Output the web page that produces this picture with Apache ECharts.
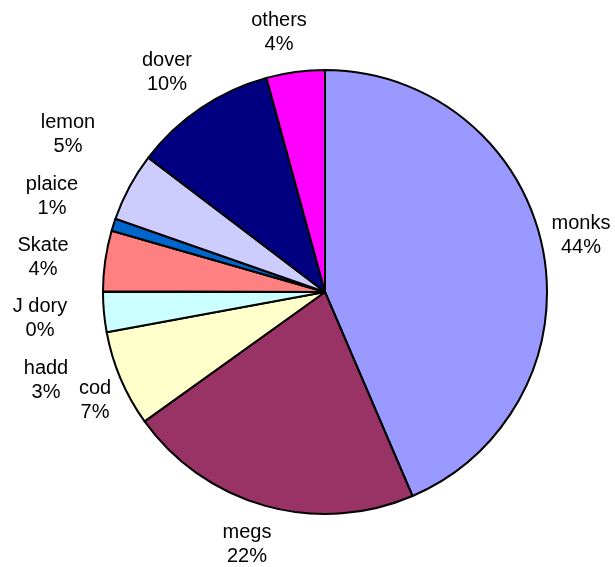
<!DOCTYPE html>
<html>
<head>
<meta charset="utf-8">
<script src="https://cdn.jsdelivr.net/npm/echarts@6/dist/echarts.min.js"></script>
<style>html,body{margin:0;padding:0;background:#fff}#c{width:615px;height:567px}</style>
</head>
<body>
<div id="c"></div>
<script>
var categories = ['monks', 'megs', 'cod', 'hadd', 'J dory', 'Skate', 'plaice', 'lemon', 'dover', 'others'];
var values = [43.55, 21.55, 7.0, 2.9, 0.05, 4.4, 0.9, 5.0, 10.4, 4.25];
var colors = ['#9999FF', '#993366', '#FFFFCC', '#CCFFFF', '#660066', '#FF8080', '#0066CC', '#CCCCFF', '#000080', '#FF00FF'];

var labelPos = {
  'monks': [581, 235], 'megs': [247, 544], 'cod': [95, 400], 'hadd': [46, 380],
  'J dory': [40, 318], 'Skate': [43, 257], 'plaice': [52, 196], 'lemon': [68, 134],
  'dover': [167, 72], 'others': [279, 32]
};

var total = values.reduce(function (a, b) { return a + b; }, 0);
var data = categories.map(function (n, i) {
  return { name: n, value: values[i], itemStyle: { color: colors[i] } };
});

var chart = echarts.init(document.getElementById('c'), null, { renderer: 'canvas' });
chart.setOption({
  animation: false,
  series: [{
    type: 'pie',
    center: [325, 292],
    radius: 222,
    startAngle: 90,
    clockwise: true,
    minAngle: 0,
    avoidLabelOverlap: false,
    data: data,
    itemStyle: { borderColor: '#000', borderWidth: 2 },
    emphasis: { disabled: true },
    label: {
      show: true,
      position: 'outside',
      formatter: function (p) { return p.name + '\n' + Math.round(p.value / total * 100) + '%'; },
      fontFamily: 'Liberation Sans, Arial, sans-serif',
      fontSize: 20,
      lineHeight: 24,
      color: '#000',
      align: 'center'
    },
    labelLine: { show: false },
    labelLayout: function (p) {
      var pos = labelPos[categories[p.dataIndex]];
      return { x: pos[0], y: pos[1], align: 'center', verticalAlign: 'middle' };
    }
  }]
});
</script>
</body>
</html>
